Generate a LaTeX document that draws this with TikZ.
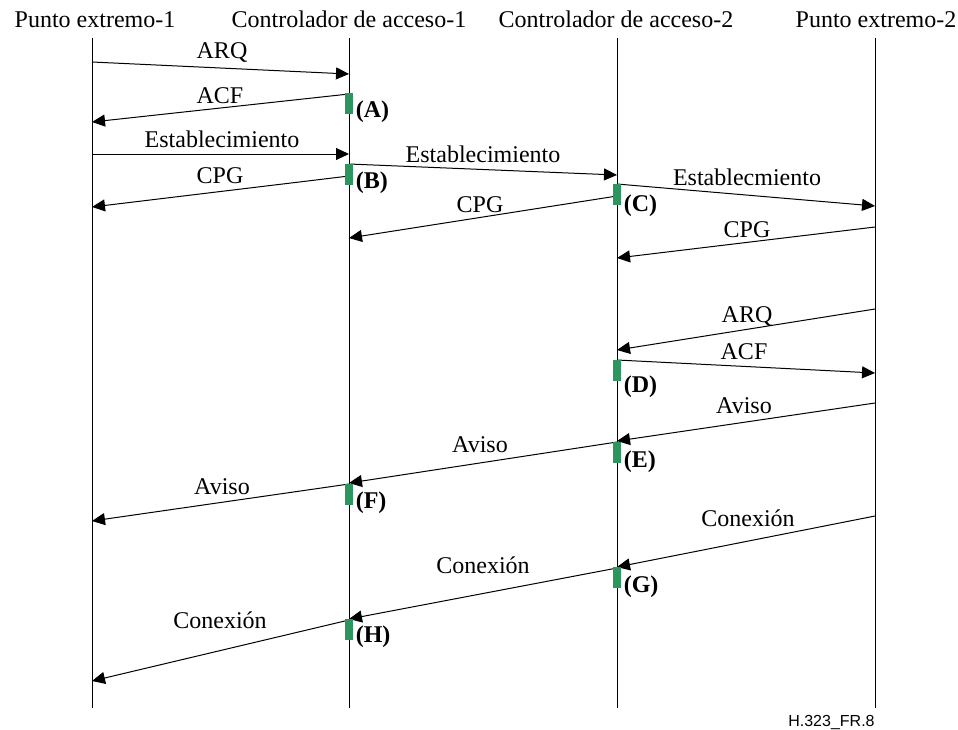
\documentclass[tikz,border=0pt]{standalone}
\usepackage{fontspec}
\setmainfont{Liberation Serif}
\newfontfamily\footfont{Liberation Sans}
\usetikzlibrary{arrows.meta}

\definecolor{actgreen}{RGB}{45,150,95}

\tikzset{
  lifeline/.style={line width=0.5pt},
  msg/.style={line width=0.5pt, -{Triangle[length=6.5pt,width=6pt]}},
  actbar/.style={fill=actgreen, draw=none, minimum width=4pt, minimum height=10.5pt, inner sep=0pt},
  lbl/.style={font=\fontsize{12}{14}\selectfont, anchor=base, inner sep=0pt},
  tag/.style={font=\fontsize{12}{14}\selectfont\bfseries, anchor=base west, inner sep=1pt},
}

\begin{document}
\begin{tikzpicture}[x=0.5pt, y=-0.5pt]
  \useasboundingbox (0,0) rectangle (958,729);

  % lifelines
  \foreach \name/\x/\hx/\txt in {ep1/92/95/Punto extremo-1, gk1/349/349/Controlador de acceso-1,
                                 gk2/617/616/Controlador de acceso-2, ep2/875/876/Punto extremo-2} {
    \coordinate (\name) at (\x,0);
    \node[lbl] (head-\name) at (\hx,27) {\txt};
    \draw[lifeline] (\name |- 0,38) -- (\name |- 0,708);
  }

  % messages
  \foreach \i/\from/\ya/\to/\yb/\txt/\lx/\ly in {
      1/ep1/62/gk1/74/ARQ/222/58,
      2/gk1/94/ep1/122/ACF/220/103,
      3/ep1/154/gk1/154/Establecimiento/222/147,
      4/gk1/164/gk2/175/Establecimiento/483/162,
      5/gk1/176/ep1/207/CPG/220/183,
      6/gk2/184/ep2/206/Establecmiento/747/185,
      7/gk2/196/gk1/238/CPG/480/212,
      8/ep2/227/gk2/258/CPG/747/237,
      9/ep2/309/gk2/350/ARQ/747/322,
      10/gk2/360/ep2/373/ACF/744/359,
      11/ep2/403/gk2/441/Aviso/744/413,
      12/gk2/442/gk1/483/Aviso/480/452,
      13/gk1/484/ep1/521/Aviso/222/494,
      14/ep2/516/gk2/567/Conexión/748/526,
      15/gk2/568/gk1/619/Conexión/483/573,
      16/gk1/620/ep1/681/Conexión/220/628} {
    \coordinate (m\i-s) at (\from |- 0,\ya);
    \coordinate (m\i-e) at (\to |- 0,\yb);
    \draw[msg] (m\i-s) -- (m\i-e);
    \node[lbl] (t\i) at (\lx,\ly) {\txt};
  }

  % green bars and their tags
  \foreach \n/\line/\y/\ty in {A/gk1/93/117, B/gk1/164/188, C/gk2/184/211, D/gk2/360/392,
                               E/gk2/442/467, F/gk1/484/508, G/gk2/567/592, H/gk1/619/642} {
    \node[actbar, anchor=north] (bar\n) at (\line |- 0,\y) {};
    \node[tag] (tag\n) at (bar\n.east |- 0,\ty) {(\n)};
  }

  \node[anchor=base east, inner sep=0pt, font=\footfont\fontsize{8}{10}\selectfont] (fig) at (875,726) {H.323\_FR.8};
\end{tikzpicture}
\end{document}
